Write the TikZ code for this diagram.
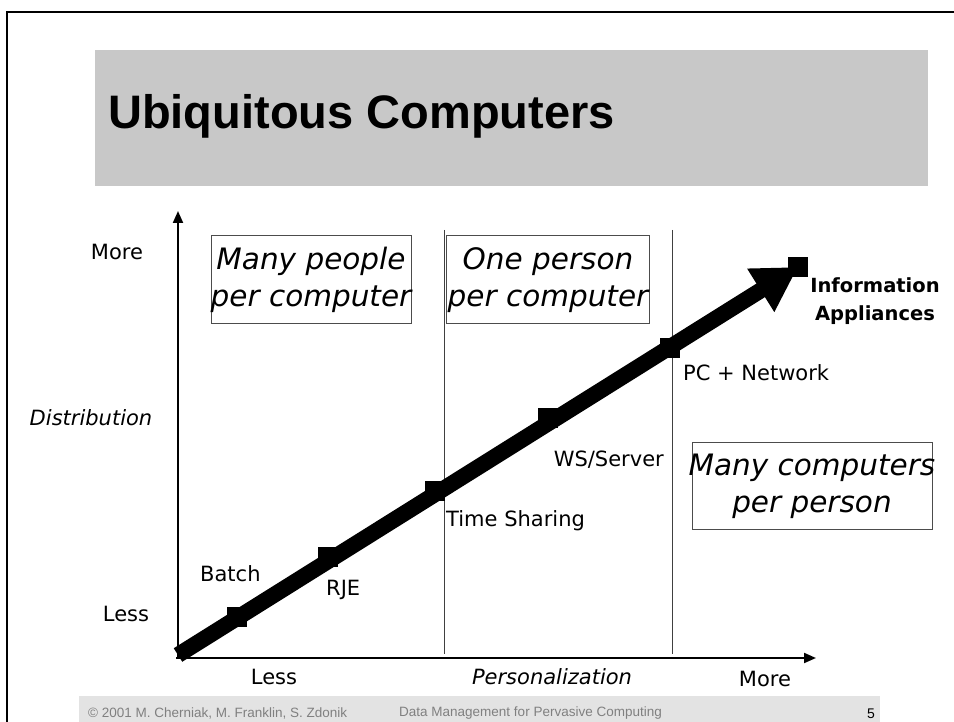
\documentclass[tikz,border=0pt]{standalone}
\usepackage{fontspec}
\setmainfont{DejaVu Sans}
\newfontfamily\titlefont{Liberation Sans}
\usetikzlibrary{arrows.meta}
\definecolor{titlegray}{HTML}{C8C8C8}
\definecolor{footgray}{HTML}{E3E3E3}
\definecolor{foottext}{HTML}{808080}
\tikzset{
  lbl/.style={inner sep=0pt, font=\fontsize{21}{25}\selectfont},
  ilbl/.style={inner sep=0pt, font=\fontsize{21}{25}\selectfont\itshape},
  regionbox/.style={draw=black!70, line width=1pt, inner sep=0pt},
  regiontext/.style={inner sep=0pt, align=center, font=\fontsize{29.5}{37}\selectfont\itshape},
  marker/.style={fill=black, draw=none, minimum size=20pt, inner sep=0pt},
  axis/.style={line width=2pt, -{Triangle[length=12pt,width=10pt]}},
  divider/.style={line width=1pt, draw=black!75},
  foot/.style={inner sep=0pt, font=\titlefont\fontsize{13.5}{16}\selectfont, text=foottext}
}
\begin{document}
\begin{tikzpicture}[x=1pt,y=-1pt]
\useasboundingbox (0,0) rectangle (954,722);
% frame
\draw[line width=2.5pt] (7,722) -- (7,12) -- (954,12);
% title
\fill[titlegray] (95,50) rectangle (928,186);
\node[anchor=base west, inner sep=0pt, font=\titlefont\bfseries\fontsize{47}{50}\selectfont] (title) at (108,129) {Ubiquitous Computers};
% footer
\fill[footgray] (79,696) rectangle (880,722);
\node[foot, anchor=west] (copy) at (88,713) {\textcopyright{} 2001 M. Cherniak, M. Franklin, S. Zdonik};
\node[foot, anchor=west] (course) at (399,713) {Data Management for Pervasive Computing};
\node[inner sep=0pt, font=\titlefont\fontsize{14}{16}\selectfont] (page) at (871,714) {5};
% dividers
\coordinate (d1t) at (444,230); \coordinate (d1b) at (444,654);
\coordinate (d2t) at (672,230); \coordinate (d2b) at (672,654);
\draw[divider] (d1t) -- (d1b);
\draw[divider] (d2t) -- (d2b);
% axes
\coordinate (origin) at (178,658);
\coordinate (ytip) at (178,211);
\coordinate (xtip) at (816,658);
\draw[axis] (176,658) -- (xtip);
\draw[axis] (origin) -- (ytip);
% region boxes
\node[regionbox, minimum width=200pt, minimum height=88pt] (b1) at (311,280) {};
\node[regionbox, minimum width=203pt, minimum height=88pt] (b2) at (548,280) {};
\node[regionbox, minimum width=240pt, minimum height=87pt] (b3) at (812,486) {};
\node[regiontext] (t1) at (b1.center) {Many people\\per computer};
\node[regiontext] (t2) at (b2.center) {One person\\per computer};
\node[regiontext] (t3) at (b3.center) {Many computers\\per person};
% big arrow
\coordinate (start) at (178,655);
\node[marker] (batch) at (237,617) {};
\node[marker] (rje) at (328,557) {};
\node[marker] (ts) at (435,491) {};
\node[marker] (ws) at (548,418) {};
\node[marker] (pc) at (670,348) {};
\node[marker] (ia) at (798,267) {};
\draw[line width=16pt, -{Triangle[length=44pt,width=48pt]}] (start) -- (ia.center);
\foreach \m in {batch,rje,ts,ws,pc,ia} \fill (\m.south west) rectangle (\m.north east);
% labels
\node[lbl] (ymore) at (117,252) {More};
\node[ilbl] (ydist) at (91,418) {Distribution};
\node[lbl] (yless) at (126,614) {Less};
\node[lbl, anchor=west] (lbatch) at (200,574) {Batch};
\node[lbl, anchor=west] (lrje) at (326,590) {RJE};
\node[lbl, anchor=west] (lts) at (446,521) {Time Sharing};
\node[lbl, anchor=east] (lws) at (664,460) {WS/Server};
\node[lbl, anchor=west] (lpc) at (683,373) {PC + Network};
\node[lbl, font=\fontsize{19.5}{28}\selectfont\bfseries, align=center] (lia) at (875,301) {Information\\Appliances};
\node[lbl] (xless) at (274,677) {Less};
\node[ilbl] (xpers) at (552,677) {Personalization};
\node[lbl] (xmore) at (765,679) {More};
\end{tikzpicture}
\end{document}
